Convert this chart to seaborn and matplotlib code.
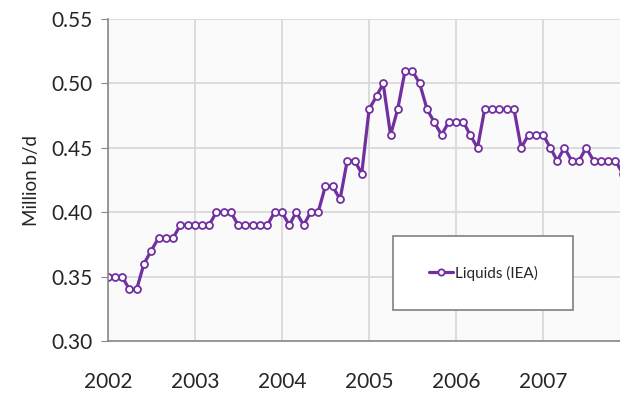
import matplotlib

matplotlib.use("Agg")
import matplotlib.dates as mdates
import matplotlib.patches as mpatches
import matplotlib.pyplot as plt
import pandas as pd
import seaborn as sns

# Monthly liquids output (IEA), million b/d, Jan..Dec of each year
liquids_2002 = [0.35, 0.35, 0.35, 0.34, 0.34, 0.36, 0.37, 0.38, 0.38, 0.38, 0.39, 0.39]
liquids_2003 = [0.39, 0.39, 0.39, 0.40, 0.40, 0.40, 0.39, 0.39, 0.39, 0.39, 0.39, 0.40]
liquids_2004 = [0.40, 0.39, 0.40, 0.39, 0.40, 0.40, 0.42, 0.42, 0.41, 0.44, 0.44, 0.43]
liquids_2005 = [0.48, 0.49, 0.50, 0.46, 0.48, 0.51, 0.51, 0.50, 0.48, 0.47, 0.46, 0.47]
liquids_2006 = [0.47, 0.47, 0.46, 0.45, 0.48, 0.48, 0.48, 0.48, 0.48, 0.45, 0.46, 0.46]
liquids_2007 = [0.46, 0.45, 0.44, 0.45, 0.44, 0.44, 0.45, 0.44, 0.44, 0.44, 0.44, 0.43]

years = [2002, 2003, 2004, 2005, 2006, 2007]
y_ticks = [0.30, 0.35, 0.40, 0.45, 0.50, 0.55]

values = (liquids_2002 + liquids_2003 + liquids_2004
          + liquids_2005 + liquids_2006 + liquids_2007)
frame = pd.DataFrame({
    "month": pd.date_range(f"{years[0]}-01-01", periods=len(values), freq="MS"),
    "value": values,
})

PURPLE = "#7030A0"
GRID = "#d9d9d9"

sns.set_style("white")
plt.rcParams["font.family"] = ["Lato", "DejaVu Sans"]

fig, axis = plt.subplots(figsize=(6.2, 3.94), dpi=100)
fig.subplots_adjust(left=108 / 620, right=1.0, top=1 - 19 / 394, bottom=1 - 341 / 394)
axis.set_facecolor("#fafafa")

sns.lineplot(
    data=frame, x="month", y="value", ax=axis,
    color=PURPLE, linewidth=2.3,
    marker="o", markersize=5, markerfacecolor="white",
    markeredgecolor=PURPLE, markeredgewidth=1.3,
    label="Liquids (IEA)",
)

axis.set_ylim(0.30, 0.55)
axis.set_yticks(y_ticks)
axis.set_yticklabels([f"{v:.2f}" for v in y_ticks])
axis.set_xlim(pd.Timestamp("2002-01-01"), pd.Timestamp("2007-11-20"))
axis.xaxis.set_major_locator(mdates.YearLocator())
axis.xaxis.set_major_formatter(mdates.DateFormatter("%Y"))

axis.grid(True, color=GRID, linewidth=1.3)
axis.set_axisbelow(True)
for side in ["top", "right"]:
    axis.spines[side].set_visible(False)
for side in ["left", "bottom"]:
    axis.spines[side].set_color("#888888")
    axis.spines[side].set_linewidth(1.2)

axis.tick_params(axis="y", length=5, color="#888888", labelsize=15, pad=6, left=True)
axis.tick_params(axis="x", length=0, labelsize=15, pad=22)
axis.set_xlabel("")
axis.set_ylabel("Million b/d", fontsize=13.5, labelpad=8)

# legend box drawn as its own frame, legend sits centred inside it
frame_box = mpatches.Rectangle(
    (0.557, 0.096), 0.351, 0.23, transform=axis.transAxes,
    facecolor="white", edgecolor="#808080", linewidth=1.2, zorder=5,
)
axis.add_patch(frame_box)
legend = axis.legend(
    loc="center", bbox_to_anchor=(0.7325, 0.211), frameon=False,
    fontsize=11, handlelength=1.6, handletextpad=0.1, markerscale=0.9,
)
legend.set_zorder(6)

fig.savefig("out.png", dpi=100)
plt.close(fig)
